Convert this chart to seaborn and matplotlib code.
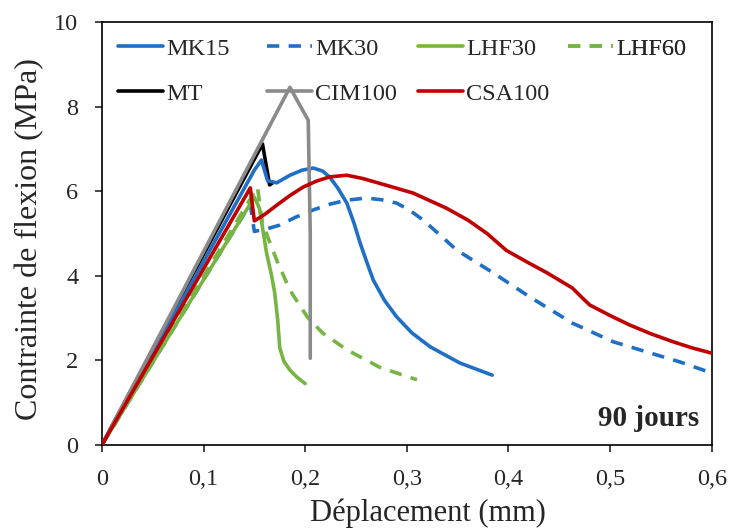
import numpy as np
import matplotlib
matplotlib.use("Agg")
import matplotlib.pyplot as plt
import seaborn as sns
import pandas as pd

# Courbes contrainte-deplacement (90 jours)
mk15_x = [0, 0.150, 0.157, 0.163, 0.172, 0.185, 0.197, 0.208, 0.217, 0.224, 0.232, 0.241, 0.248, 0.254, 0.261, 0.267, 0.278, 0.290, 0.305, 0.323, 0.352, 0.384]
mk15_y = [0, 6.50, 6.74, 6.25, 6.20, 6.38, 6.50, 6.55, 6.48, 6.34, 6.08, 5.72, 5.25, 4.78, 4.30, 3.90, 3.42, 3.03, 2.65, 2.32, 1.94, 1.65]

mk30_x = [0, 0.146, 0.150, 0.165, 0.175, 0.190, 0.208, 0.225, 0.241, 0.260, 0.275, 0.290, 0.303, 0.316, 0.332, 0.349, 0.385, 0.421, 0.463, 0.503, 0.536, 0.569, 0.600]
mk30_y = [0, 5.70, 5.05, 5.13, 5.20, 5.38, 5.56, 5.70, 5.79, 5.84, 5.80, 5.72, 5.55, 5.32, 4.98, 4.61, 4.07, 3.50, 2.88, 2.44, 2.20, 1.96, 1.70]

lhf30_x = [0, 0.150, 0.155, 0.162, 0.167, 0.170, 0.173, 0.175, 0.179, 0.185, 0.192, 0.200]
lhf30_y = [0, 5.86, 5.60, 4.54, 4.00, 3.60, 2.95, 2.30, 1.98, 1.77, 1.60, 1.45]

lhf60_x = [0, 0.153, 0.158, 0.165, 0.172, 0.185, 0.202, 0.217, 0.241, 0.273, 0.310]
lhf60_y = [0, 6.10, 5.25, 4.80, 4.37, 3.66, 3.03, 2.65, 2.25, 1.84, 1.54]

mt_x = [0, 0.158, 0.165, 0.168]
mt_y = [0, 7.12, 6.15, 6.20]

cim_x = [0, 0.185, 0.203, 0.205, 0.205]
cim_y = [0, 8.46, 7.68, 5.0, 2.05]

csa_x = [0, 0.146, 0.150, 0.160, 0.172, 0.185, 0.198, 0.211, 0.224, 0.241, 0.257, 0.273, 0.306, 0.339, 0.360, 0.379, 0.398, 0.418, 0.438, 0.463, 0.473, 0.480, 0.500, 0.519, 0.540, 0.562, 0.580, 0.600]
csa_y = [0, 6.08, 5.30, 5.45, 5.67, 5.90, 6.10, 6.24, 6.34, 6.38, 6.30, 6.19, 5.96, 5.60, 5.32, 5.00, 4.60, 4.33, 4.07, 3.71, 3.47, 3.31, 3.06, 2.84, 2.63, 2.44, 2.30, 2.17]

blue = "#1f6fc5"
green = "#77b543"
red = "#c00000"
gray = "#8a8a8a"

sns.set_style("ticks")
plt.rcParams['font.family'] = ['Liberation Serif', 'DejaVu Serif']

fig = plt.figure(figsize=(7.33, 5.29), dpi=100)
ax = fig.add_axes([0.139, 0.159, 0.832, 0.799])

lw = 2.6
dash = (3.4, 2.6)
series = [
    ("MK15", mk15_x, mk15_y, blue, None, 4),
    ("MT", mt_x, mt_y, "black", None, 3),
    ("MK30", mk30_x, mk30_y, blue, dash, 2),
    ("CIM100", cim_x, cim_y, gray, None, 5),
    ("LHF30", lhf30_x, lhf30_y, green, None, 2),
    ("CSA100", csa_x, csa_y, red, None, 6),
    ("LHF60", lhf60_x, lhf60_y, green, dash, 2),
]

lines = {}
for name, xs, ys, col, ds, z in series:
    df = pd.DataFrame({"x": xs, "y": ys})
    kw = {}
    if ds is not None:
        kw["dashes"] = ds
    sns.lineplot(data=df, x="x", y="y", sort=False, estimator=None, color=col,
                 linewidth=lw, ax=ax, zorder=z, **kw)
    lines[name] = ax.lines[-1]

ax.set_xlim(0, 0.6)
ax.set_ylim(0, 10)
ax.set_xticks(np.arange(0, 0.61, 0.1))
ax.set_xticklabels(["0", "0,1", "0,2", "0,3", "0,4", "0,5", "0,6"])
ax.set_yticks(np.arange(0, 11, 2))
ax.tick_params(labelsize=17.5, length=5, width=1.2, direction="out")
ax.tick_params(axis="y", pad=12)
ax.tick_params(axis="x", pad=12)
for s in ax.spines.values():
    s.set_linewidth(1.2)
    s.set_color("black")

ax.set_xlabel("Déplacement (mm)", fontsize=22)
ax.xaxis.set_label_coords(0.534, -0.126)
ax.set_ylabel("Contrainte de flexion (MPa)", fontsize=23)
ax.yaxis.set_label_coords(-0.094, 0.487)

ax.text(0.98, 0.03, "90 jours", transform=ax.transAxes, ha="right", va="bottom",
        fontsize=21, fontweight="bold")

# legende en colonnes de largeur fixe (comme Excel)
cols = [(["MK15", "MT"], 0.026), (["MK30", "CIM100"], 0.270),
        (["LHF30", "CSA100"], 0.518), (["LHF60"], 0.764)]
for names, xpos in cols:
    leg = ax.legend([lines[n] for n in names], names, loc="upper left",
                    bbox_to_anchor=(xpos, 0.963), frameon=False, fontsize=17.5,
                    handlelength=1.85, handletextpad=0.15, labelspacing=0.95,
                    borderpad=0, borderaxespad=0)
    ax.add_artist(leg)

fig.savefig("out.png", dpi=100)
